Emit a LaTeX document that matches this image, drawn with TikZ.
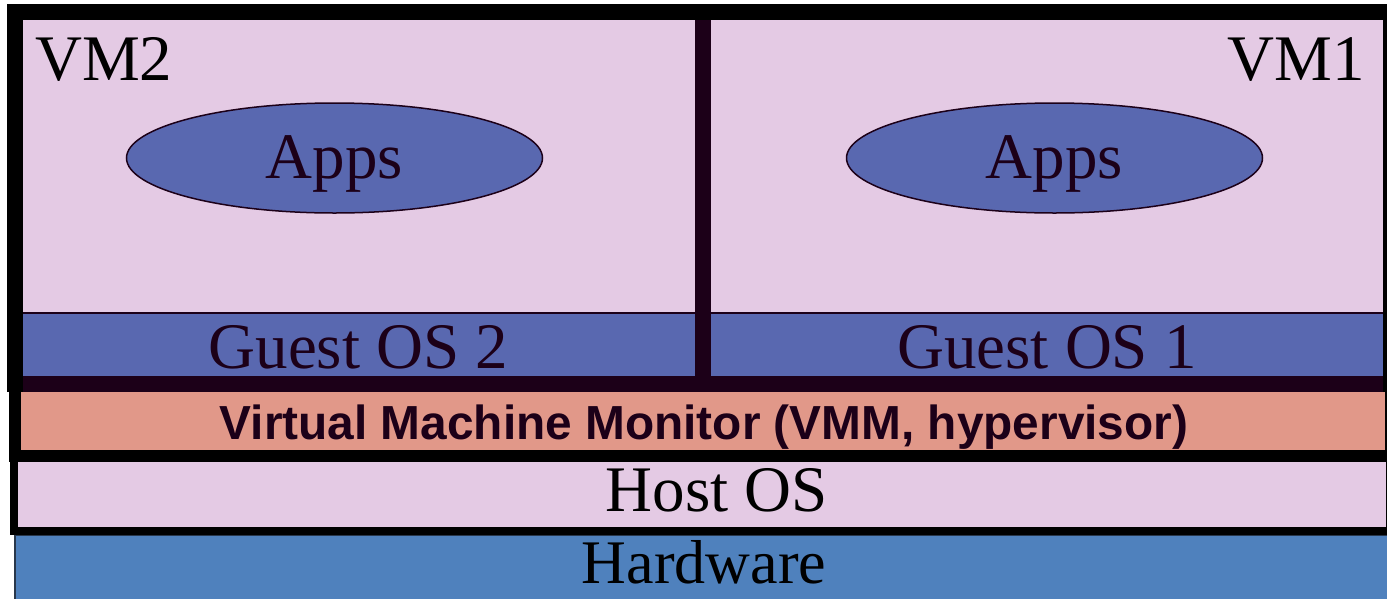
\documentclass[tikz,border=0pt]{standalone}
\usepackage{fontspec}
\setmainfont{Liberation Serif}
\newfontfamily\vmmsans{Liberation Sans}
\usetikzlibrary{shapes.geometric}
\definecolor{vmpink}{RGB}{228,202,228}
\definecolor{guestblue}{RGB}{89,104,176}
\definecolor{vmmsalmon}{RGB}{225,152,137}
\definecolor{hwblue}{RGB}{79,129,189}
\definecolor{plum}{RGB}{28,0,24}
\definecolor{hwedge}{RGB}{40,55,75}
\begin{document}
\begin{tikzpicture}[x=1pt,y=-1pt,
		bigtext/.style={inner sep=0pt,font=\fontsize{65}{78}\selectfont},
		appsblob/.style={ellipse,draw=plum,line width=1.5pt,fill=guestblue,minimum width=416pt,minimum height=110pt,
			inner sep=0pt,text height=40pt,text depth=0pt,text=plum,font=\fontsize{65}{78}\selectfont}]
			\useasboundingbox (0,0) rectangle (1387,598);
			\clip (0,0) rectangle (1387,598);
			% Draw hardware
			\filldraw[fill=hwblue,draw=hwedge,line width=2pt] (15,535) rectangle (1400,610);
			% Draw host OS
			\filldraw[fill=vmpink,draw=black,line width=8pt] (14,458) rectangle (1390,531);
			% Draw VMM
			\filldraw[fill=vmmsalmon,draw=black,line width=12pt] (15,386) rectangle (1391,456);
			% Draw VM area
			\fill[vmpink] (15,12) rectangle (1391,384);
			\fill[guestblue] (15,313) rectangle (1391,384);
			\draw[plum,line width=1.5pt] (15,313) -- (1391,313);
			\draw[plum,line width=16pt] (703,12) -- (703,384);
			\draw[plum,line width=16pt] (15,384) -- (1391,384);
			\draw[black,line width=16pt,line cap=rect] (15,384) -- (15,12) -- (1391,12) -- (1391,384);
			% Draw apps
			\node[appsblob] (apps2) at (334.5,158) {Apps};
			\node[appsblob] (apps1) at (1054.5,158) {Apps};
			% Draw labels
			\node[bigtext,anchor=base west] (vm2) at (35,80) {VM2};
			\node[bigtext,anchor=base east] (vm1) at (1365,80) {VM1};
			\node[bigtext,anchor=base,text=plum] (guest2) at (358.5,368) {Guest OS 2};
			\node[bigtext,anchor=base,text=plum] (guest1) at (1047,368) {Guest OS 1};
			\node[inner sep=0pt,anchor=base,text=plum,font=\vmmsans\bfseries\fontsize{47.8}{56}\selectfont] (vmm) at (704,439) {Virtual Machine Monitor (VMM, hypervisor)};
			\node[bigtext,anchor=base] (host) at (717,511) {Host OS};
			\node[inner sep=0pt,anchor=base,font=\fontsize{62}{72}\selectfont] (hw) at (704,583) {Hardware};
		\end{tikzpicture}
\end{document}
